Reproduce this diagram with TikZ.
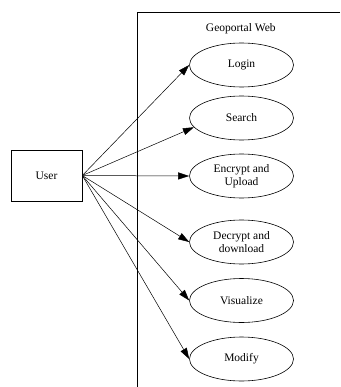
\documentclass[tikz,border=0pt]{standalone}
\usepackage{fontspec}
\setmainfont{Liberation Serif}
\usetikzlibrary{shapes.geometric,arrows.meta}
\begin{document}
\begin{tikzpicture}[x=1pt,y=-1pt,
  usecase/.style={ellipse,draw,line width=0.6pt,minimum width=104pt,minimum height=44pt,
    inner sep=0pt,align=center,font=\fontsize{11.5}{13.3}\selectfont},
  actor/.style={rectangle,draw,line width=0.6pt,minimum width=71pt,minimum height=51pt,
    inner sep=0pt,font=\fontsize{11.5}{13.3}\selectfont},
  assoc/.style={line width=0.5pt,-{Triangle[length=11pt,width=7pt]}},
  frame/.style={line width=0.8pt}]
\useasboundingbox (0,0) rectangle (340,387);
% system boundary (open to the right and bottom)
\coordinate (fr-tl) at (137.3,12.3);
\coordinate (fr-tr) at (340,12.3);
\coordinate (fr-bl) at (137.3,387);
\draw[frame] (fr-tr) -- (fr-tl) -- (fr-bl);
\node[font=\fontsize{11.5}{13.3}\selectfont] (title) at (240.8,28.3) {Geoportal Web};
% actor
\node[actor] (user) at (46.5,175.5) {User};
% use cases
\node[usecase] (login)   at (241.5,65)  {Login};
\node[usecase] (search)  at (241.5,118) {Search};
\node[usecase] (encrypt) at (241.5,176) {Encrypt and\\Upload};
\node[usecase] (decrypt) at (241.5,242) {Decrypt and\\download};
\node[usecase] (visual)  at (241.5,300.5) {Visualize};
\node[usecase] (modify)  at (241.5,359) {Modify};
% associations
\draw[assoc] (user.east) -- (login.west);
\draw[assoc] (user.east) -- (search.191);
\draw[assoc] (user.east) -- (encrypt.west);
\draw[assoc] (user.east) -- (decrypt.west);
\draw[assoc] (user.east) -- (visual.west);
\draw[assoc] (user.east) -- (modify.west);
\end{tikzpicture}
\end{document}
